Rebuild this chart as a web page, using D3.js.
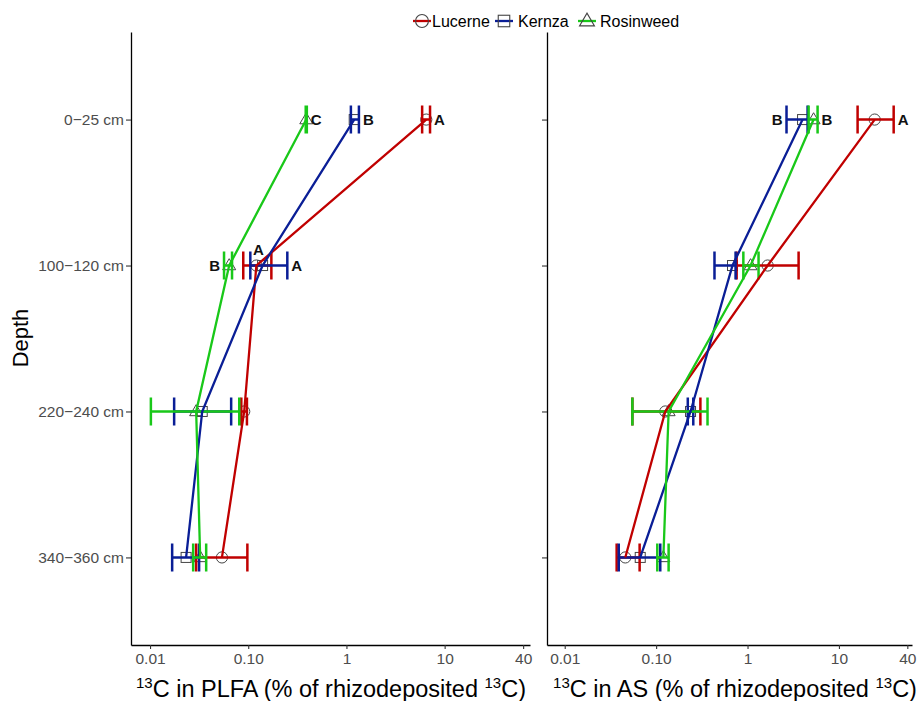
<!DOCTYPE html>
<html>
<head>
<meta charset="utf-8">
<script src="https://cdn.jsdelivr.net/npm/d3@7"></script>
<style>
  body { margin: 0; background: #fff; }
  text { font-family: "Liberation Sans", Arial, sans-serif; }
</style>
</head>
<body>
<svg id="chart" width="917" height="701"></svg>
<script>
// depth categories and species
let depths = ["0\u221225 cm", "100\u2212120 cm", "220\u2212240 cm", "340\u2212360 cm"];
let species = ["Lucerne", "Kernza", "Rosinweed"];

// 13C in PLFA (% of rhizodeposited 13C): mean, lower, upper per depth
let plfaLucerne = [6.5, 0.121, 0.091, 0.054];
let plfaLucerneLo = [5.9, 0.089, 0.085, 0.0295];
let plfaLucerneHi = [7.1, 0.172, 0.097, 0.098];
let plfaKernza = [1.2, 0.14, 0.034, 0.0233];
let plfaKernzaLo = [1.11, 0.105, 0.0176, 0.0168];
let plfaKernzaHi = [1.34, 0.25, 0.067, 0.0316];
let plfaRosinweed = [0.39, 0.064, 0.0295, 0.0324];
let plfaRosinweedLo = [0.385, 0.0567, 0.0102, 0.0275];
let plfaRosinweedHi = [0.395, 0.0684, 0.081, 0.0373];

// 13C in AS (% of rhizodeposited 13C)
let asLucerne = [24.6, 1.66, 0.126, 0.046];
let asLucerneLo = [16.0, 0.76, 0.055, 0.037];
let asLucerneHi = [39.7, 3.62, 0.305, 0.066];
let asKernza = [4.0, 0.685, 0.238, 0.067];
let asKernzaLo = [2.67, 0.435, 0.222, 0.039];
let asKernzaHi = [4.54, 0.74, 0.255, 0.111];
let asRosinweed = [5.28, 1.08, 0.137, 0.12];
let asRosinweedLo = [4.66, 0.90, 0.055, 0.103];
let asRosinweedHi = [5.84, 1.32, 0.365, 0.137];

// significance letters
let letterPanel = ["PLFA", "PLFA", "PLFA", "PLFA", "PLFA", "PLFA", "AS", "AS", "AS"];
let letterDepth = [0, 0, 0, 1, 1, 1, 0, 0, 0];
let letterSpecies = ["Rosinweed", "Kernza", "Lucerne", "Rosinweed", "Lucerne", "Kernza", "Kernza", "Rosinweed", "Lucerne"];
let letterText = ["C", "B", "A", "B", "A", "A", "B", "B", "A"];
let letterSide = ["right", "right", "right", "left", "above", "right", "left", "right", "right"];

// x axis ticks
let tickLabels = ["0.01", "0.10", "1", "10", "40"];
let plfaTicks = [0.01, 0.1, 1, 10, 63];
let asTicks = [0.01, 0.1, 1, 10, 56];

let colors = {Lucerne: "#C00000", Kernza: "#0A1E96", Rosinweed: "#19C819"};

function rows(mean, lo, hi, sp) {
  return depths.map((d, i) => ({depth: d, species: sp, mean: mean[i], lo: lo[i], hi: hi[i]}));
}

let panels = [
  {
    key: "PLFA",
    title: "in PLFA (% of rhizodeposited ",
    titleX: 331,
    ticks: plfaTicks,
    x: d3.scaleLog().domain([0.0064, 74]).range([131, 530]),
    data: [
      rows(plfaLucerne, plfaLucerneLo, plfaLucerneHi, "Lucerne"),
      rows(plfaKernza, plfaKernzaLo, plfaKernzaHi, "Kernza"),
      rows(plfaRosinweed, plfaRosinweedLo, plfaRosinweedHi, "Rosinweed")
    ]
  },
  {
    key: "AS",
    title: "in AS (% of rhizodeposited ",
    titleX: 735,
    ticks: asTicks,
    x: d3.scaleLog().domain([0.0064, 63]).range([547, 912]),
    data: [
      rows(asLucerne, asLucerneLo, asLucerneHi, "Lucerne"),
      rows(asKernza, asKernzaLo, asKernzaHi, "Kernza"),
      rows(asRosinweed, asRosinweedLo, asRosinweedHi, "Rosinweed")
    ]
  }
];

let y = d3.scalePoint().domain(depths).range([32, 645]).padding(0.6);
let svg = d3.select("#chart");

function shape(g, sp, cx, cy, big) {
  let k = big ? 1.15 : 1;
  if (sp == "Lucerne") {
    g.append("circle").attr("cx", cx).attr("cy", cy).attr("r", 5.6 * k);
  } else if (sp == "Kernza") {
    let s = 10 * k;
    g.append("rect").attr("x", cx - s / 2).attr("y", cy - s / 2).attr("width", s).attr("height", s);
  } else {
    let h = 6.5 * k;
    g.append("path").attr("d", `M${cx - h},${cy + h * 0.65} L${cx + h},${cy + h * 0.65} L${cx},${cy - h * 1.05} Z`);
  }
}

function draw_panel(p) {
  let g = svg.append("g").attr("class", p.key);

  // points
  let pts = g.append("g").attr("fill", "none").attr("stroke", "#444").attr("stroke-width", 1);
  p.data.forEach(series => series.forEach(d => shape(pts, d.species, p.x(d.mean), y(d.depth), false)));

  // error bars
  p.data.forEach(series => {
    let eb = g.append("g").attr("stroke", colors[series[0].species]).attr("stroke-width", 2.5).attr("fill", "none");
    series.forEach(d => {
      let cy = y(d.depth);
      eb.append("path").attr("d",
        `M${p.x(d.lo)},${cy} L${p.x(d.hi)},${cy}` +
        `M${p.x(d.lo)},${cy - 14} L${p.x(d.lo)},${cy + 14}` +
        `M${p.x(d.hi)},${cy - 14} L${p.x(d.hi)},${cy + 14}`);
    });
  });

  // depth profiles
  let line = d3.line().x(d => p.x(d.mean)).y(d => y(d.depth));
  g.selectAll("path.profile")
    .data(p.data).enter()
    .append("path")
    .attr("class", "profile")
    .attr("d", line)
    .attr("fill", "none")
    .attr("stroke", s => colors[s[0].species])
    .attr("stroke-width", 2.3);

  // letters
  letterText.forEach((t, i) => {
    if (letterPanel[i] != p.key) return;
    let d = p.data[species.indexOf(letterSpecies[i])][letterDepth[i]];
    let cy = y(d.depth), side = letterSide[i];
    let tx = side == "right" ? p.x(d.hi) + 4 : side == "left" ? p.x(d.lo) - 4 : p.x(d.mean) + 2;
    g.append("text")
      .attr("x", tx)
      .attr("y", side == "above" ? cy - 11 : cy + 5.5)
      .attr("text-anchor", side == "right" ? "start" : side == "left" ? "end" : "middle")
      .style("font-size", "15px")
      .attr("font-weight", "bold")
      .attr("fill", "#111")
      .text(t);
  });

  // axes
  let xAxis = d3.axisBottom(p.x)
    .tickValues(p.ticks)
    .tickFormat((d, i) => tickLabels[i])
    .tickSize(4)
    .tickSizeOuter(0);
  let xa = g.append("g").attr("transform", "translate(0,645)").call(xAxis);
  let yAxis = d3.axisLeft(y).tickSize(5).tickSizeOuter(0);
  if (p.key == "AS") yAxis.tickFormat("");
  let ya = g.append("g").attr("transform", `translate(${p.x.range()[0]},0)`).call(yAxis);

  [xa, ya].forEach(a => {
    a.select(".domain").attr("stroke", "#000").attr("stroke-width", 1.3);
    a.selectAll(".tick line").attr("stroke", "#333").attr("stroke-width", 1.1);
    a.selectAll(".tick text")
      .attr("fill", "#4D4D4D")
      .style("font-size", "15.5px");
  });
  xa.selectAll(".tick text").attr("dy", "0.71em").attr("y", 8);
  ya.selectAll(".tick text").attr("x", -7);

  // x title
  let tt = g.append("text")
    .attr("x", p.titleX)
    .attr("y", 697)
    .attr("text-anchor", "middle")
    .style("font-size", "23.5px")
    .attr("fill", "#000");
  tt.append("tspan").style("font-size", "15px").attr("dy", -9).text("13");
  tt.append("tspan").attr("dy", 9).text("C " + p.title);
  tt.append("tspan").style("font-size", "15px").attr("dy", -9).text("13");
  tt.append("tspan").attr("dy", 9).text("C)");
}

function draw_legend() {
  let lg = svg.append("g").attr("class", "legend");
  let keyX = [422, 504, 587], textX = [432, 518, 600], cy = 21;
  species.forEach((sp, i) => {
    lg.append("line")
      .attr("x1", keyX[i] - 9).attr("x2", keyX[i] + 9)
      .attr("y1", cy).attr("y2", cy)
      .attr("stroke", colors[sp]).attr("stroke-width", 2.3);
    let k = lg.append("g").attr("fill", "none").attr("stroke", "#444").attr("stroke-width", 1.1);
    shape(k, sp, keyX[i], cy, true);
    lg.append("text")
      .attr("x", textX[i]).attr("y", cy + 5.5)
      .style("font-size", "16px")
      .attr("fill", "#000")
      .text(sp);
  });
}

panels.forEach(draw_panel);
draw_legend();

svg.append("text")
  .attr("transform", "translate(28,338) rotate(-90)")
  .attr("text-anchor", "middle")
  .style("font-size", "22px")
  .attr("fill", "#000")
  .text("Depth");
</script>
</body>
</html>
